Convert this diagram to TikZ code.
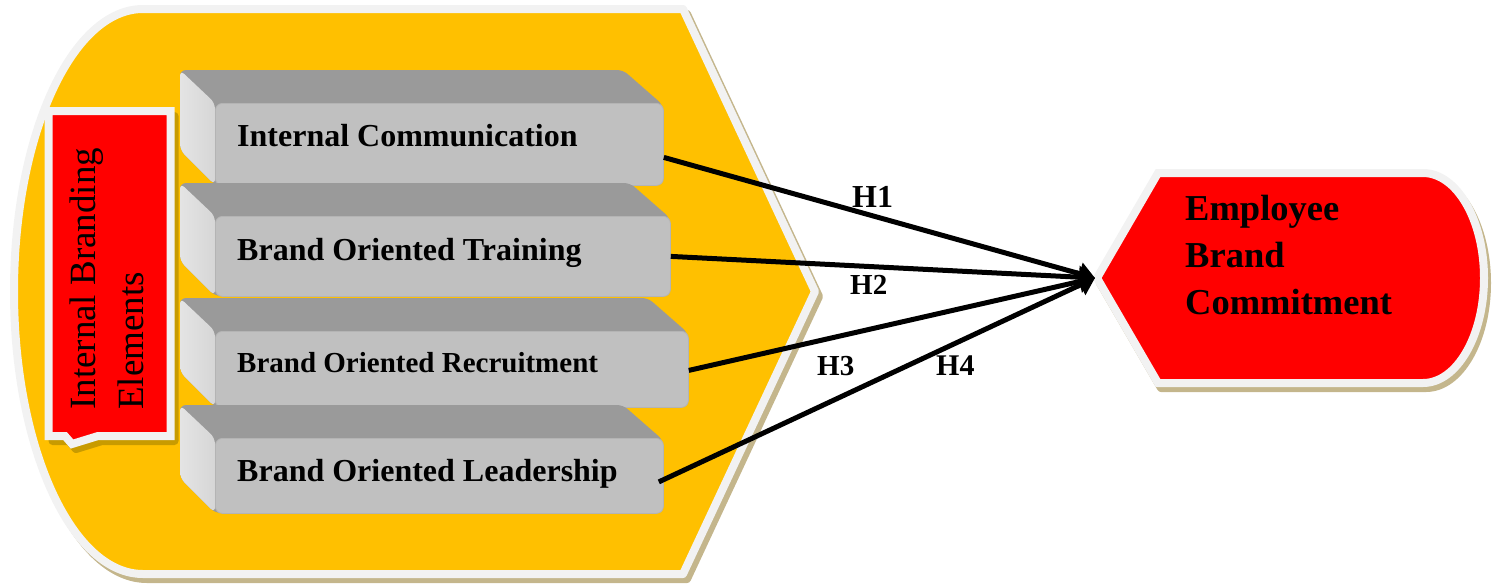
\documentclass[tikz,border=0pt]{standalone}
\usepackage{fontspec}
\setmainfont{Liberation Serif}
\usetikzlibrary{arrows.meta}

\definecolor{panelyellow}{HTML}{FFC000}
\definecolor{rimwhite}{HTML}{F2F2F2}
\definecolor{rimtan}{HTML}{C4B68C}
\definecolor{labelred}{HTML}{FF0000}
\definecolor{labelshadow}{HTML}{C89B00}
\definecolor{bevtop}{HTML}{9A9A9A}
\definecolor{bevfront}{HTML}{C0C0C0}
\definecolor{bevedge}{HTML}{B4B4B4}
\definecolor{bevlightA}{HTML}{E4E4E4}
\definecolor{bevlightB}{HTML}{D6D6D6}

\tikzset{
  rimmed/.style={draw=rimwhite, line width=8pt, line join=round},
  rimshadow/.style={fill=#1, draw=#1, line width=8pt, line join=round},
  bevtopface/.style={fill=bevtop, rounded corners=6pt},
  bevsideface/.style={left color=bevlightA, right color=bevlightB, rounded corners=6pt},
  bevfrontface/.style={fill=bevfront, draw=bevedge, line width=0.8pt,
    rounded corners=7pt, inner sep=0pt},
  boxtext/.style={anchor=base west, inner sep=0pt, font=\bfseries},
  hyplabel/.style={anchor=base west, inner sep=0pt, font=\bfseries},
  link/.style={line width=5pt, -{Triangle[length=16pt,width=22pt]}},
}

% Outline of the large yellow panel (display shape, curved left side)
\def\panelpath{(143,9) -- (683,9) -- (815,291.5) -- (683,574) -- (143,574)
  .. controls (71.75,574) and (14,447.5) .. (14,291.5)
  .. controls (14,135.5) and (71.75,9) .. (143,9) -- cycle}

% Outline of the vertical red label with its small pointer
\def\labelpath{(48.5,111) -- (170.5,111) -- (170.5,436) -- (98,436)
  -- (72,444) -- (65,436) -- (48.5,436) -- cycle}

% Outline of the outcome shape (pointed left, rounded right)
\def\outcomepath{(1097,278) -- (1158,173) -- (1423,173)
  .. controls (1456.7,173) and (1484,220) .. (1484,278)
  .. controls (1484,336) and (1456.7,383) .. (1423,383)
  -- (1158,383) -- cycle}

% Bevelled grey box: name, back top y, front right x, front bottom y,
% text, font size, text baseline
\newcommand\BevelBox[7]{%
  \path[bevtopface] (180,#2) -- (#3-40,#2) -- (#3,#2+35) -- (#3,#4)
    -- (215,#4) -- (180,#4-35) -- cycle;
  \path[bevsideface] (180,#2) -- (215,#2+33) -- (215,#4) -- (180,#4-35) -- cycle;
  \node[bevfrontface, anchor=north west, minimum width=#3-215,
    minimum height=#4-#2-33] (#1) at (215,#2+33) {};
  \node[boxtext, font=\fontsize{#6}{#6}\selectfont\bfseries] (#1-text)
    at (237,#7) {#5};
}

\begin{document}
\begin{tikzpicture}[x=1pt, y=-1pt]
  \useasboundingbox (0,0) rectangle (1499,584);

  % yellow panel with rim and drop shadow
  \path[rimshadow=rimtan, shift={(4,5)}] \panelpath;
  \path[rimmed, fill=panelyellow] \panelpath;

  % red vertical label
  \path[rimshadow=labelshadow, shift={(4,5)}] \labelpath;
  \path[rimmed, fill=labelred, line join=miter] \labelpath;
  \node[rotate=90, anchor=west, inner sep=0pt, align=left,
    font=\fontsize{37}{48}\selectfont] (elements) at (107.3,410)
    {Internal Branding\\Elements};

  % the four internal branding elements
  \BevelBox{ic}{70}{663}{185}{Internal Communication}{32}{146}
  \BevelBox{bot}{183}{670}{296}{Brand Oriented Training}{32}{260}
  \BevelBox{bor}{298}{688}{407}{Brand Oriented Recruitment}{29}{372}
  \BevelBox{bol}{405}{663}{513}{Brand Oriented Leadership}{32}{481}

  % outcome shape
  \path[rimshadow=rimtan, shift={(3,5)}] \outcomepath;
  \path[rimmed, fill=labelred, line join=miter] \outcomepath;
  \node[anchor=west, inner sep=0pt, align=left,
    font=\fontsize{36.5}{47}\selectfont\bfseries] (ebc) at (1185,255)
    {Employee\\Brand\\Commitment};
  \coordinate (ebc-tip) at (1095,278);

  % hypothesised effects
  \draw[link] ([yshift=-13pt]ic.east) -- (ebc-tip);
  \draw[link] (bot.east) -- (ebc-tip);
  \draw[link] ([yshift=-1pt]bor.east) -- (ebc-tip);
  \draw[link] ([xshift=-5pt,yshift=-6pt]bol.east) -- (ebc-tip);

  \node[hyplabel, font=\fontsize{32}{32}\selectfont\bfseries] (h1) at (852,207) {H1};
  \node[hyplabel, font=\fontsize{29}{29}\selectfont\bfseries] (h2) at (850,294) {H2};
  \node[hyplabel, font=\fontsize{29}{29}\selectfont\bfseries] (h3) at (817,375) {H3};
  \node[hyplabel, font=\fontsize{30}{30}\selectfont\bfseries] (h4) at (936,375) {H4};
\end{tikzpicture}
\end{document}
